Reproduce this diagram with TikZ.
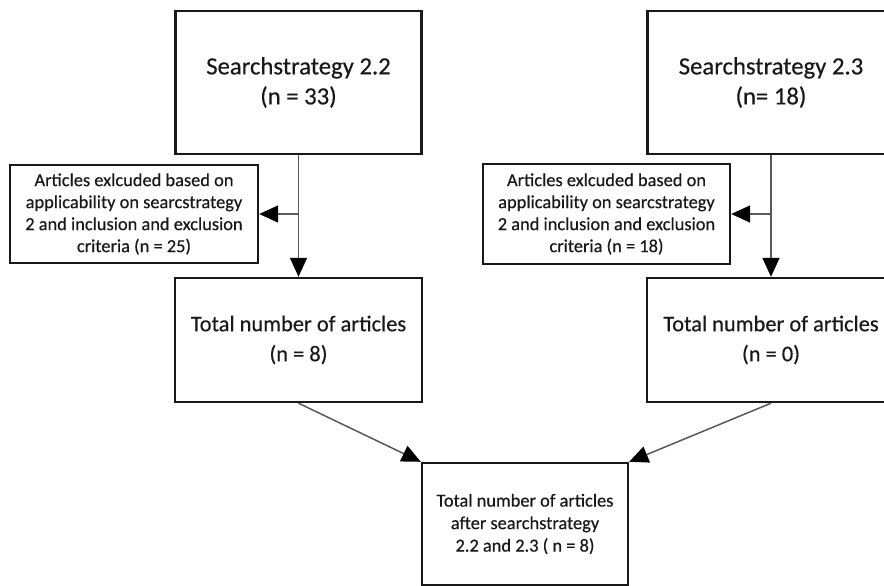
\documentclass[tikz,border=0pt]{standalone}
\usepackage{fontspec}
\setmainfont{Carlito}[FakeBold=0.4]
\usetikzlibrary{arrows.meta}
\begin{document}
\begin{tikzpicture}[x=1pt,y=-1pt,
  bigbox/.style={draw=black!90,line width=2.4pt,fill=white,align=center,inner sep=0pt,
    font=\fontsize{24.7}{30}\selectfont,text=black!90},
  totbox/.style={bigbox,font=\fontsize{22.4}{30}\selectfont},
  smallbox/.style={draw=black!90,line width=2.4pt,fill=white,align=center,inner sep=0pt,
    font=\fontsize{18.4}{22}\selectfont,text=black!90},
  conn/.style={draw=black!65,line width=1.5pt,
    -{Triangle[length=19pt,width=17pt,color=black]}}]
\useasboundingbox (0,0) rectangle (884,586);
\fill[white] (0,0) rectangle (884,586);

\node[bigbox,minimum width=246pt,minimum height=143pt] (s22) at (298.5,82.5)
  {Searchstrategy 2.2\\(n = 33)};
\node[bigbox,minimum width=247pt,minimum height=143pt] (s23) at (771,82.5)
  {Searchstrategy 2.3\\(n= 18)};

\node[smallbox,minimum width=248pt,minimum height=98pt] (exl) at (134,214)
  {Articles exlcuded based on\\applicability on searcstrategy\\2 and inclusion and exclusion\\criteria (n = 25)};
\node[smallbox,minimum width=247pt,minimum height=100pt] (exr) at (606.5,214)
  {Articles exlcuded based on\\applicability on searcstrategy\\2 and inclusion and exclusion\\criteria (n = 18)};

\node[totbox,minimum width=247pt,minimum height=124pt] (tl) at (298.5,340)
  {Total number of articles\\(n = 8)};
\node[totbox,minimum width=248pt,minimum height=124pt] (tr) at (771,340)
  {Total number of articles\\(n = 0)};

\node[smallbox,minimum width=206pt,minimum height=122pt,
  font=\fontsize{18.4}{22.5}\selectfont] (fin) at (525,524)
  {Total number of articles\\after searchstrategy\\2.2 and 2.3 ( n = 8)};

\coordinate (bl) at (s22.south |- exl.east);
\coordinate (br) at (s23.south |- exr.east);

\draw[conn] (s22.south) -- (tl.north);
\draw[conn] (bl) -- (exl.east);
\draw[conn] (s23.south) -- (tr.north);
\draw[conn] (br) -- (exr.east);
\draw[conn] (tl.south) -- (fin.north west);
\draw[conn] (tr.south) -- (fin.north east);
\end{tikzpicture}
\end{document}
